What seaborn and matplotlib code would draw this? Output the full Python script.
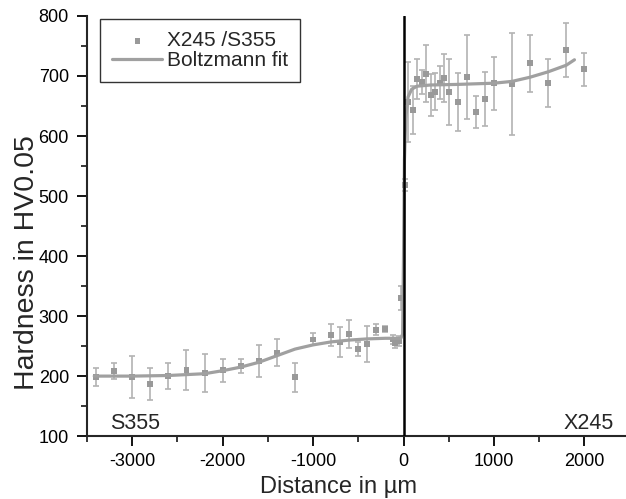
import numpy as np
import pandas as pd
import seaborn as sns
import matplotlib.pyplot as plt
from matplotlib.ticker import MultipleLocator

# measured hardness points (distance in um, HV0.05, std)
dist = [-3400, -3200, -3000, -2800, -2600, -2400, -2200, -2000, -1800, -1600,
        -1400, -1200, -1000, -800, -700, -600, -500, -400, -300, -200,
        -120, -90, -50, -25,
        20, 50, 100, 150, 200, 250, 300, 350, 400, 450, 500,
        600, 700, 800, 900, 1000, 1200, 1400, 1600, 1800, 2000]
hardness = [199, 208, 199, 187, 200, 210, 205, 210, 217, 225,
            239, 198, 261, 268, 256, 270, 245, 253, 277, 279,
            261, 255, 258, 330,
            518, 657, 644, 695, 690, 704, 668, 674, 689, 697, 673,
            657, 699, 640, 661, 688, 686, 721, 688, 744, 711]
hardness_err = [15, 13, 35, 27, 22, 33, 31, 19, 12, 27,
                22, 24, 10, 18, 25, 24, 12, 30, 9, 5,
                8, 8, 8, 20,
                10, 67, 40, 33, 20, 48, 35, 31, 27, 40, 55,
                48, 70, 27, 45, 44, 85, 47, 40, 45, 27]

# Boltzmann fit curve
fit_x = [-3420, -3000, -2600, -2200, -2000, -1800, -1600, -1400, -1200, -1000,
         -800, -600, -400, -200, -30, -10, 0, 10, 25, 50, 90, 150, 300, 600,
         1000, 1200, 1400, 1600, 1800, 1890]
fit_y = [200, 200, 201, 204, 209, 215, 223, 234, 245, 252,
         257, 260, 262, 263, 263, 270, 400, 560, 630, 665, 678, 683, 685, 686,
         688, 691, 698, 707, 718, 727]

sns.set_style("ticks")
plt.rcParams["font.family"] = ["Liberation Sans", "DejaVu Sans"]
plt.rcParams["axes.unicode_minus"] = False

fig = plt.figure(figsize=(6.26, 4.99), dpi=100)
ax = fig.add_axes([0.139, 0.126, 0.861, 0.842])

points = pd.DataFrame({"Distance": dist, "Hardness": hardness, "err": hardness_err})
fit = pd.DataFrame({"Distance": fit_x, "Hardness": fit_y})

ax.errorbar(points["Distance"], points["Hardness"], yerr=points["err"],
            fmt="none", ecolor="#b3b3b3", elinewidth=1.2, capsize=2.5,
            capthick=1.2, zorder=2)
sns.scatterplot(data=points, x="Distance", y="Hardness", marker="s", s=18,
                color="#999999", edgecolor="none", ax=ax, zorder=3,
                label="X245 /S355")
sns.lineplot(data=fit, x="Distance", y="Hardness", color="#a0a0a0",
             linewidth=2.3, ax=ax, zorder=4, label="Boltzmann fit",
             sort=False)

ax.axvline(0, color="black", linewidth=1.8, zorder=5)

ax.set_xlim(-3500, 2460)
ax.set_ylim(100, 800)
ax.xaxis.set_major_locator(MultipleLocator(1000))
ax.xaxis.set_minor_locator(MultipleLocator(500))
ax.yaxis.set_major_locator(MultipleLocator(100))
ax.yaxis.set_minor_locator(MultipleLocator(50))
ax.tick_params(which="major", direction="out", length=7.5, width=1.3,
               labelsize=13, colors="black")
ax.tick_params(axis="y", which="major", pad=5.5)
ax.tick_params(axis="x", which="major", pad=5)
ax.tick_params(which="minor", direction="out", length=4, width=1.3)

for side in ["top", "right"]:
    ax.spines[side].set_visible(False)
for side in ["left", "bottom"]:
    ax.spines[side].set_linewidth(1.5)

ax.set_xlabel("Distance in µm", size=17)
ax.set_ylabel("Hardness in HV0.05", size=20.5)
ax.xaxis.set_label_coords(0.466, -0.094)
ax.yaxis.set_label_coords(-0.088, 0.414)

ax.text(-3240, 104, "S355", size=15.5, ha="left", va="bottom")
ax.text(2330, 104, "X245", size=15.5, ha="right", va="bottom")

leg = ax.legend(loc="upper left", bbox_to_anchor=(0.024, 0.993), fontsize=15,
                frameon=True, fancybox=False, edgecolor="black",
                borderpad=0.6, handlelength=2.4, handletextpad=0.2,
                labelspacing=0.02, borderaxespad=0)
leg.get_frame().set_linewidth(1.0)

plt.savefig("out.png", dpi=100)
